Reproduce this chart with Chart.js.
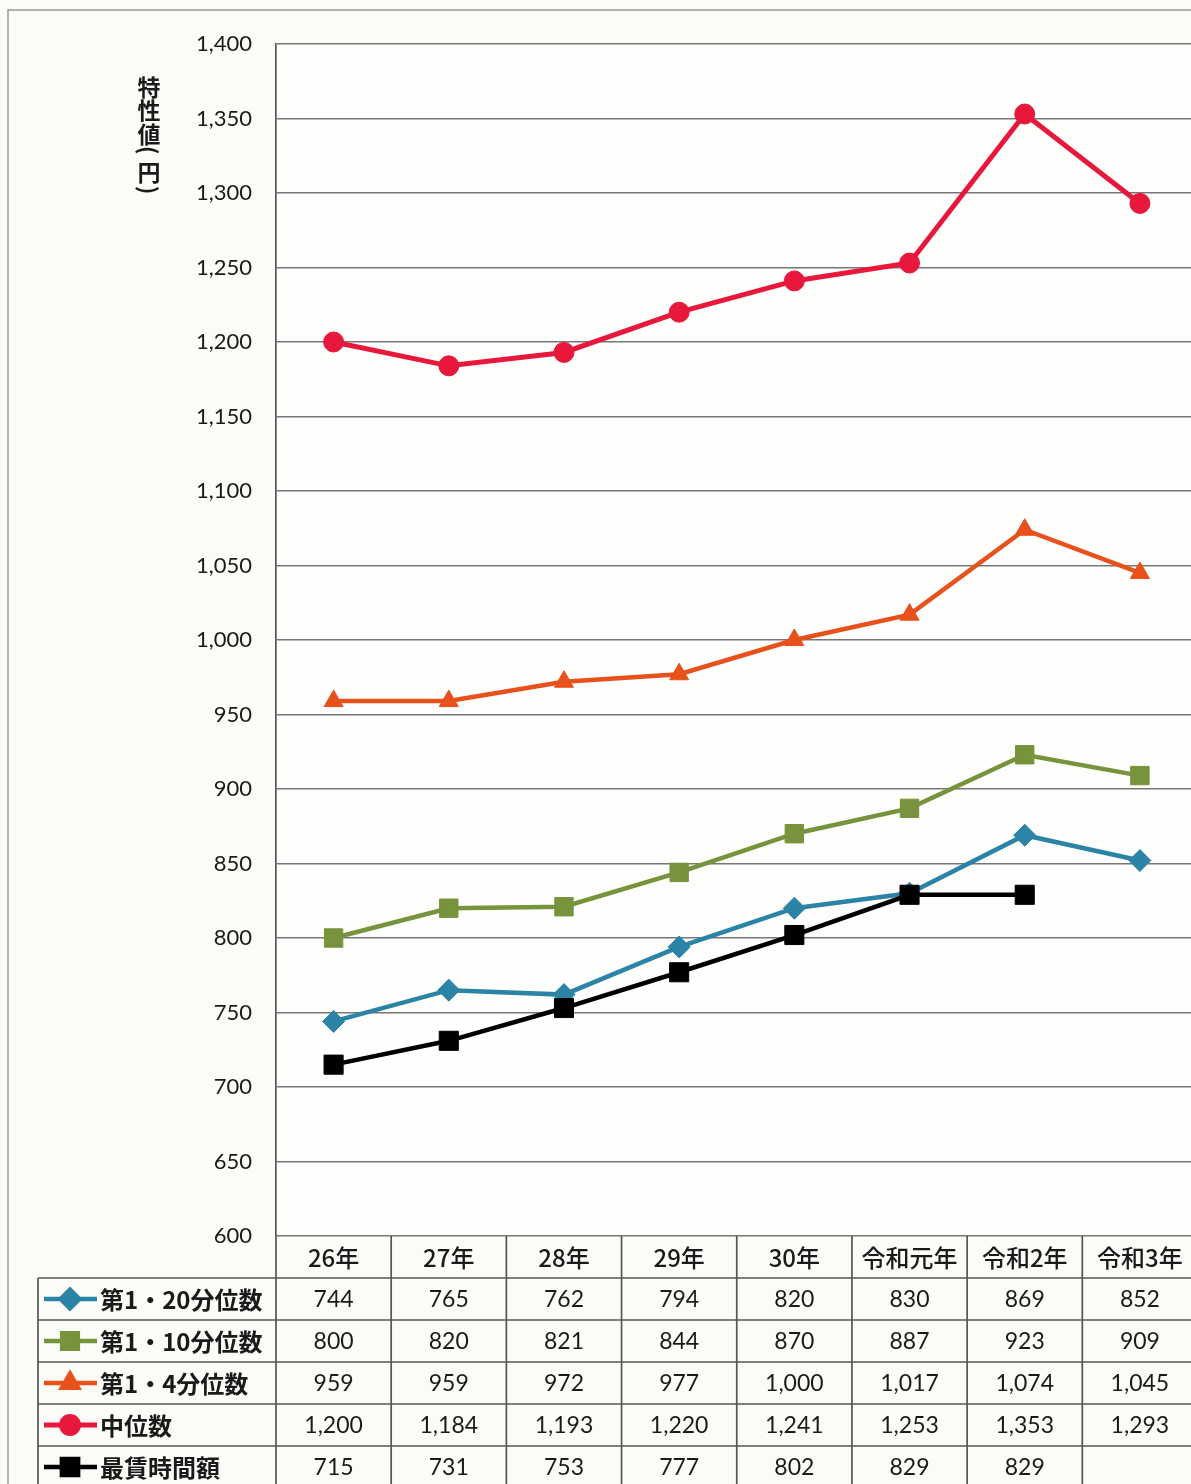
<!DOCTYPE html>
<html>
<head>
<meta charset="utf-8">
<title>特性値の推移</title>
<script src="https://cdn.jsdelivr.net/npm/chart.js@4.4.1/dist/chart.umd.min.js"></script>
<style>
  html, body { margin: 0; padding: 0; overflow: hidden; background: #fbfbf8; }
  canvas { display: block; }
</style>
</head>
<body>
<canvas id="chart" width="1212" height="1484"></canvas>
<script>
// 年次ラベル
const categories = ['26年', '27年', '28年', '29年', '30年', '令和元年', '令和2年', '令和3年'];

// 系列名
const seriesNames = ['第1・20分位数', '第1・10分位数', '第1・4分位数', '中位数', '最賃時間額'];

// 系列値（円）
const p20Values = [744, 765, 762, 794, 820, 830, 869, 852];
const p10Values = [800, 820, 821, 844, 870, 887, 923, 909];
const q1Values = [959, 959, 972, 977, 1000, 1017, 1074, 1045];
const medianValues = [1200, 1184, 1193, 1220, 1241, 1253, 1353, 1293];
const minWageValues = [715, 731, 753, 777, 802, 829, 829, null];

// 縦軸目盛
const yTicks = [600, 650, 700, 750, 800, 850, 900, 950, 1000, 1050, 1100, 1150, 1200, 1250, 1300, 1350, 1400];

// 縦軸タイトル（縦書き、括弧は回転して描く）
const yTitleChars = ['特', '性', '値', '(', '円', ')'];

const LATIN = "Lato, 'Noto Sans CJK JP', sans-serif";
const JP = "'Noto Sans CJK JP', sans-serif";
const fmt = v => (v == null ? '' : v.toLocaleString('en-US'));

const styles = [
  { color: '#2b83a6', pointStyle: 'rectRot', radius: 11, width: 4.5 },
  { color: '#77933c', pointStyle: 'rect', radius: 13, width: 4.5 },
  { color: '#e8501c', pointStyle: 'triangle', radius: 11, width: 4.5 },
  { color: '#e8183c', pointStyle: 'circle', radius: 10, width: 5 },
  { color: '#000000', pointStyle: 'rect', radius: 13.5, width: 4.5 }
];
const seriesValues = [p20Values, p10Values, q1Values, medianValues, minWageValues];
const drawOrder = [4, 3, 2, 1, 0];

const datasets = seriesValues.map((vals, i) => ({
  label: seriesNames[i],
  data: vals,
  borderColor: styles[i].color,
  backgroundColor: styles[i].color,
  borderWidth: styles[i].width,
  pointStyle: styles[i].pointStyle,
  pointRadius: styles[i].radius,
  pointHoverRadius: styles[i].radius,
  pointBorderWidth: 1,
  pointBorderColor: styles[i].color,
  pointBackgroundColor: styles[i].color,
  tension: 0,
  spanGaps: false,
  order: drawOrder[i]
}));

const ROW_H = 42;
const LEGEND_LEFT = 38;
const GRID = '#777777';

const frameAndTable = {
  id: 'frameAndTable',
  beforeDraw(chart) {
    const ctx = chart.ctx;
    ctx.save();
    ctx.fillStyle = '#fbfbf8';
    ctx.fillRect(0, 0, chart.width, chart.height);
    ctx.fillStyle = '#fefefd';
    const a = chart.chartArea;
    ctx.fillRect(a.left, a.top, a.right - a.left, a.bottom - a.top);
    // 外枠
    ctx.strokeStyle = '#9a9a9a';
    ctx.lineWidth = 1.5;
    ctx.beginPath();
    ctx.moveTo(8, chart.height);
    ctx.lineTo(8, 10);
    ctx.lineTo(chart.width, 10);
    ctx.stroke();
    ctx.restore();
  },
  afterDraw(chart) {
    const ctx = chart.ctx;
    const a = chart.chartArea;
    const xs = chart.scales.x;
    const colW = xs.getPixelForValue(1) - xs.getPixelForValue(0);
    const top = a.bottom;
    const bottom = chart.height + 10;
    ctx.save();

    // 縦軸タイトル
    ctx.fillStyle = '#1a1a1a';
    ctx.font = 'bold 23px ' + JP;
    ctx.textAlign = 'center';
    ctx.textBaseline = 'middle';
    const titleY = [87, 110, 134, 150, 172, 190];
    yTitleChars.forEach((ch, i) => {
      if (ch === '(' || ch === ')') {
        ctx.save();
        ctx.translate(149, titleY[i]);
        ctx.rotate(Math.PI / 2);
        ctx.fillText(ch, 0, 0);
        ctx.restore();
      } else {
        ctx.fillText(ch, 149, titleY[i]);
      }
    });

    // 表の罫線
    ctx.strokeStyle = '#555555';
    ctx.lineWidth = 1.7;
    ctx.beginPath();
    for (let k = 1; k <= 5; k++) {
      const y = top + ROW_H * k;
      ctx.moveTo(LEGEND_LEFT, y);
      ctx.lineTo(chart.width, y);
    }
    ctx.moveTo(LEGEND_LEFT, top + ROW_H);
    ctx.lineTo(LEGEND_LEFT, bottom);
    ctx.moveTo(a.left, top);
    ctx.lineTo(a.left, bottom);
    categories.forEach((c, i) => {
      const xb = xs.getPixelForValue(i) + colW / 2;
      ctx.moveTo(xb, top);
      ctx.lineTo(xb, bottom);
    });
    ctx.stroke();

    // 見出し行
    ctx.fillStyle = '#1a1a1a';
    ctx.font = '500 24px ' + JP;
    ctx.textAlign = 'center';
    ctx.textBaseline = 'middle';
    categories.forEach((c, i) => {
      ctx.fillText(c, xs.getPixelForValue(i), top + ROW_H / 2 + 1);
    });

    // 各系列の行
    seriesValues.forEach((vals, r) => {
      const cy = top + ROW_H * (r + 1) + ROW_H / 2;
      // 凡例記号
      const st = styles[r];
      ctx.strokeStyle = st.color;
      ctx.lineWidth = st.width;
      ctx.beginPath();
      ctx.moveTo(44, cy);
      ctx.lineTo(97, cy);
      ctx.stroke();
      ctx.fillStyle = st.color;
      ctx.strokeStyle = st.color;
      if (Chart.helpers && Chart.helpers.drawPoint) {
        Chart.helpers.drawPoint(ctx, { pointStyle: st.pointStyle, radius: st.radius * 0.85, rotation: 0, borderWidth: 1 }, 70, cy);
      }
      // 系列名
      ctx.fillStyle = '#1a1a1a';
      ctx.font = 'bold 24px ' + JP;
      ctx.textAlign = 'left';
      ctx.fillText(seriesNames[r], 100, cy + 1);
      // 値
      ctx.font = '23px ' + LATIN;
      ctx.textAlign = 'center';
      vals.forEach((v, i) => {
        ctx.fillText(fmt(v), xs.getPixelForValue(i), cy + 1);
      });
    });
    ctx.restore();
  }
};

new Chart(document.getElementById('chart'), {
  type: 'line',
  data: { labels: categories, datasets },
  options: {
    responsive: false,
    animation: false,
    events: [],
    layout: { padding: { top: 44, bottom: 248, left: 0, right: 3 } },
    plugins: { legend: { display: false }, tooltip: { enabled: false } },
    scales: {
      x: {
        type: 'category',
        offset: true,
        display: false,
        ticks: { display: false },
        afterFit(scale) { scale.paddingLeft = 0; scale.paddingRight = 0; }
      },
      y: {
        min: yTicks[0],
        max: yTicks[yTicks.length - 1],
        afterBuildTicks(scale) { scale.ticks = yTicks.map(v => ({ value: v })); },
        afterFit(scale) { scale.width = 276; },
        grid: { color: GRID, lineWidth: 1.6, drawTicks: false },
        border: { color: '#555555', width: 1.7 },
        ticks: {
          padding: 24,
          color: '#1a1a1a',
          font: { family: LATIN, size: 22 },
          callback: v => fmt(v)
        }
      }
    }
  },
  plugins: [frameAndTable]
});
</script>
</body>
</html>
